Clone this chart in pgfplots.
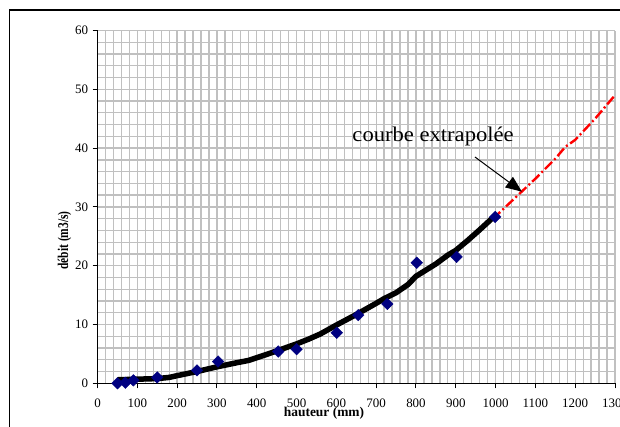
\documentclass[border=0pt]{standalone}
\usepackage{pgfplots}
\pgfplotsset{compat=1.18}
\usepackage{fontspec}
\setmainfont{Liberation Serif}
\usetikzlibrary{arrows.meta}
\definecolor{gridgray}{RGB}{192,192,192}
\definecolor{navyblue}{RGB}{0,0,128}
\begin{document}
\begin{tikzpicture}
\begin{axis}[
  at={(0,0)}, anchor=south west,
  scale only axis,
  width=517.5bp, height=352.8bp,
  xmin=0, xmax=1300, ymin=0, ymax=60,
  xtick={0,100,...,1300}, ytick={0,10,...,60},
  minor x tick num=4, minor y tick num=4,
  grid=both,
  major grid style={gridgray, line width=1.3bp},
  minor grid style={gridgray, line width=1.3bp},
  axis lines=left,
  axis line style={-, black, line width=1.3bp},
  tick align=outside,
  major tick length=5bp, minor tick length=0pt,
  tick style={black, line width=1bp},
  /pgf/number format/assume math mode=true,
  /pgf/number format/1000 sep={},
  ticklabel style={font=\fontsize{13}{13}\selectfont},
  xticklabel style={yshift=-7bp},
  yticklabel style={xshift=-1bp},
  clip=false,
]
% red extrapolated curve
\addplot[red, line width=2.4bp, dash pattern=on 10bp off 3bp on 2bp off 3bp] coordinates {
(500,6.7) (550,8.0) (600,9.7) (650,11.5) (700,13.4) (750,15.4) (800,17.9) (850,20.3) (900,22.8) (950,25.5) (1000,28.4) (1050,31.6) (1100,34.8) (1150,38.2) (1175,40.2) (1200,41.4) (1250,45.0) (1300,49.0)
};
% black fitted curve
\addplot[black, line width=5.5bp, line join=round] coordinates {
(50,0.6) (100,0.7) (150,0.8) (180,1.0) (200,1.3) (250,2.0) (300,2.8) (350,3.5) (380,3.9) (420,4.8) (450,5.5) (500,6.7) (530,7.5) (560,8.4) (600,9.9) (650,11.7) (700,13.6) (720,14.4) (750,15.4) (780,16.8) (800,18.2) (850,20.3) (880,21.8) (900,22.6) (930,24.3) (960,26.1) (1000,28.6)
};
% measured points
\addplot[only marks, mark=square*, mark size=4.1bp, mark options={rotate=45, fill=navyblue, draw=navyblue}] coordinates {
(50,0) (70,0.1) (90,0.5) (150,1.0) (250,2.2) (303,3.7) (454,5.4) (500,5.8) (601,8.6) (655,11.6) (728,13.5) (802,20.5) (902,21.5) (999,28.3)
};
\node[font=\fontsize{21}{21}\selectfont, xscale=1.08] at (axis cs:843,42) {courbe extrapolée};
\draw[black, line width=1bp, -{Triangle[length=16bp,width=13bp]}] (axis cs:948,38.5) -- (axis cs:1066,32.6);
\node[font=\bfseries\fontsize{13.5}{13.5}\selectfont] at (rel axis cs:0.4377,0) [yshift=-30bp] {hauteur (mm)};
\node[font=\bfseries\fontsize{11.5}{11.5}\selectfont, rotate=90, yscale=1.3] at (axis cs:-83,24.3) {débit (m3/s)};
\end{axis}
\draw[black, line width=1.5bp] (-88.2bp,-60bp) -- (-88.2bp,373.3bp) -- (540bp,373.3bp);
\pgfresetboundingbox
\path[use as bounding box] (-97.5bp,-43.7bp) rectangle (522.5bp,383.3bp);
\end{tikzpicture}
\end{document}
